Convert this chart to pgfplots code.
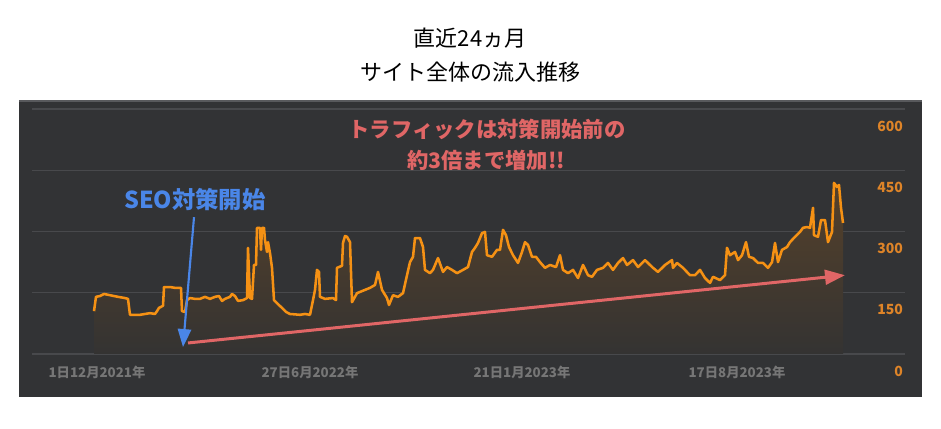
\documentclass[border=0pt]{standalone}
\usepackage{pgfplots}
\pgfplotsset{compat=1.18}
\usepackage{pgfplotstable}
\usepackage{fontspec}
\newfontfamily\jp{Noto Sans CJK JP}
\usetikzlibrary{arrows.meta}

\definecolor{panel}{RGB}{50,51,53}
\definecolor{panelline}{RGB}{88,89,92}
\definecolor{gridc}{RGB}{72,73,76}
\definecolor{lineor}{RGB}{245,145,20}
\definecolor{ytickc}{RGB}{222,132,40}
\definecolor{xtickc}{RGB}{118,118,118}
\definecolor{redc}{RGB}{224,102,102}
\definecolor{bluec}{RGB}{74,134,232}
\definecolor{areatop}{RGB}{86,65,42}
\definecolor{areabot}{RGB}{52,51,50}

% x = horizontal position of the day, v = sessions
\pgfplotstableread{
x v
94 105
96 140
100 142
104 147
110 144
118 140
125 137
128 135
130 96
140 96
145 98
150 100
155 98
157 105
159 113
163 118
164 164
170 164
175 162
181 162
182 105
185 103
187 132
190 137
195 135
200 135
205 140
210 135
215 140
219 142
222 130
225 135
230 140
232 147
235 142
238 130
243 132
247 137
248 260
250 137
252 135
254 218
256 218
257 309
260 309
261 255
262 309
264 309
265 279
267 250
268 274
270 247
272 211
274 132
278 122
282 113
286 103
290 98
300 96
305 98
310 96
313 132
315 157
317 206
319 201
320 140
325 135
333 137
336 132
337 211
342 216
343 272
345 289
347 287
350 274
352 127
357 149
365 157
370 162
375 169
378 201
382 157
387 137
389 120
393 144
398 140
403 149
407 193
410 225
413 238
415 284
420 284
423 262
425 206
430 198
433 206
438 235
443 201
447 213
452 206
457 198
463 206
468 213
472 250
475 260
478 272
482 296
485 299
487 242
492 238
497 255
500 255
503 304
506 291
509 262
513 242
518 223
522 250
525 274
528 267
532 238
536 238
540 225
545 211
550 218
556 213
560 242
563 206
568 198
573 206
578 186
583 218
588 193
592 189
597 206
603 211
608 223
613 206
618 223
623 235
627 218
633 230
638 213
645 230
650 218
653 211
658 201
665 218
672 230
673 211
677 223
683 211
690 193
695 193
700 206
705 186
710 174
713 189
720 181
725 193
727 260
730 242
735 250
738 230
742 242
746 274
749 238
753 235
758 223
763 223
768 211
772 225
775 272
778 225
782 255
787 262
790 274
795 287
800 299
803 309
807 311
810 309
813 358
814 291
818 287
821 328
825 328
828 274
832 299
834 419
837 409
839 414
841 358
843 321
}\traffic

\begin{document}
\begin{tikzpicture}
\useasboundingbox (0,0) rectangle (705.75pt,321pt);
\fill[white] (0,0) rectangle (705.75pt,321pt);
\fill[panel] (14.25pt,23.25pt) rectangle (691.5pt,246pt);
\draw[panelline, line width=1.5pt] (14.25pt,245.25pt) -- (691.5pt,245.25pt);
\node[font=\jp\fontsize{16.5}{25.5}\selectfont, align=center, text=black]
  at (352.5pt,279.5pt) {直近24ヵ月\\サイト全体の流入推移};

\begin{axis}[
    at={(24pt,55.5pt)}, anchor=south west,
    scale only axis, width=654.75pt, height=183.75pt,
    xmin=32, xmax=905, ymin=0, ymax=600,
    axis line style={draw=none},
    major tick length=0pt,
    ymajorgrids, grid style={gridc, line width=0.9pt},
    ytick={0,150,300,450,600},
    yticklabel pos=right,
    /pgf/number format/assume math mode=true,
    yticklabel style={font=\jp\bfseries\fontsize{10.5}{12}\selectfont, text=ytickc,
        anchor=east, xshift=2pt, yshift=-12.75pt},
    xtick={97,310,522,737},
    xticklabels={1日12月2021年,27日6月2022年,21日1月2023年,17日8月2023年},
    xticklabel style={font=\jp\bfseries\fontsize{10}{12}\selectfont, text=xtickc,
        anchor=center, yshift=-13.5pt},
    clip=false,
]
\addplot[draw=none, top color=areatop, bottom color=areabot, forget plot]
  table[x=x, y=v]{\traffic} \closedcycle;
\addplot[lineor, line width=1.9pt, line join=round] table[x=x, y=v]{\traffic};

\draw[redc, line width=2.25pt, -{Triangle[length=15pt, width=11pt]}]
  (axis cs:188,27) -- (axis cs:845,193);
\draw[bluec, line width=1.6pt, -{Triangle[length=13.5pt, width=10pt]}]
  (axis cs:194,335) -- (axis cs:183,17);

\node[font=\jp\bfseries\fontsize{16}{19}\selectfont, text=redc] at (axis cs:487,549) {トラフィックは対策開始前の};
\node[font=\jp\bfseries\fontsize{16}{19}\selectfont, text=redc] at (axis cs:486,475) {約3倍まで増加!!};
\node[font=\jp\bfseries\fontsize{17.5}{20}\selectfont, text=bluec] at (axis cs:195,377) {SEO対策開始};
\end{axis}
\end{tikzpicture}
\end{document}
